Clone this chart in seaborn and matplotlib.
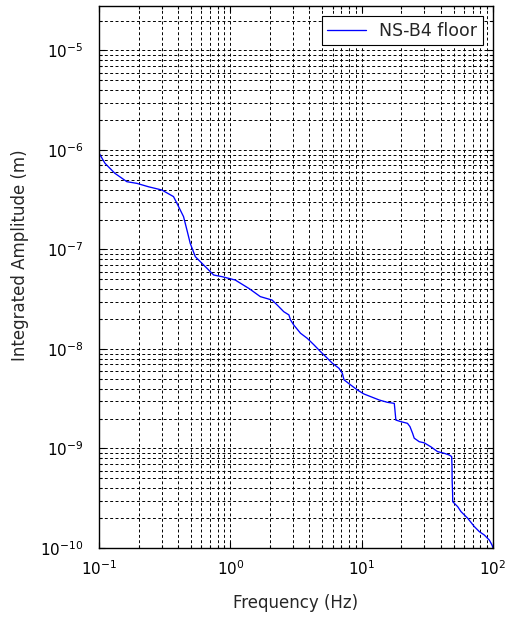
import numpy as np
import pandas as pd
import matplotlib
matplotlib.use("Agg")
import matplotlib.pyplot as plt
import seaborn as sns
from matplotlib.ticker import LogLocator, NullFormatter

# values (frequency in Hz, integrated amplitude in m)
freq = [0.1, 0.111, 0.132, 0.163, 0.194, 0.238, 0.301, 0.369, 0.392, 0.44,
        0.467, 0.495, 0.541, 0.608, 0.746, 0.865, 1.09, 1.4, 1.69, 2.08,
        2.27, 2.55, 2.79, 2.87, 3.04, 3.42, 3.85, 4.33, 4.86, 5.31,
        5.97, 6.71, 7.12, 7.33, 8.24, 9.27, 10.4, 11.7, 13.6, 15.7,
        17.7, 17.9, 18.2, 19.9, 22.3, 23.3, 24.4, 25.1, 27.4, 29.9,
        33.6, 37.8, 42.5, 46.4, 48.4, 48.7, 48.8, 49.2, 49.3, 53.8,
        57.0, 64.1, 72.0, 78.6, 85.8, 93.7, 98.2, 100.0]
amp = [9.3e-7, 7.35e-7, 5.83e-7, 4.8e-7, 4.62e-7, 4.27e-7, 3.96e-7, 3.4e-7, 2.91e-7, 2.14e-7,
       1.57e-7, 1.15e-7, 8.46e-8, 7.26e-8, 5.54e-8, 5.33e-8, 4.93e-8, 4.02e-8, 3.36e-8, 3.1e-8,
       2.77e-8, 2.37e-8, 2.2e-8, 1.96e-8, 1.74e-8, 1.44e-8, 1.28e-8, 1.1e-8, 9.4e-9, 8.4e-9,
       7.2e-9, 6.4e-9, 5.7e-9, 4.9e-9, 4.35e-9, 3.87e-9, 3.53e-9, 3.32e-9, 3.07e-9, 2.91e-9,
       2.84e-9, 2.44e-9, 1.93e-9, 1.86e-9, 1.79e-9, 1.66e-9, 1.42e-9, 1.27e-9, 1.17e-9, 1.14e-9,
       1.04e-9, 9.3e-10, 8.95e-10, 8.6e-10, 8.3e-10, 6.6e-10, 4.8e-10, 3.55e-10, 2.92e-10, 2.6e-10,
       2.32e-10, 1.99e-10, 1.64e-10, 1.46e-10, 1.35e-10, 1.2e-10, 1.07e-10, 1.0e-10]
series_name = "NS-B4 floor"

df = pd.DataFrame({"freq": freq, "amp": amp, "series": series_name})

sns.set_style("ticks")
plt.rcParams['font.family'] = ['DejaVu Sans']

fig = plt.figure(figsize=(5.12, 6.18), dpi=100)
ax = fig.add_axes([0.1934, 0.1133, 0.7696, 0.877])

sns.lineplot(data=df, x="freq", y="amp", hue="series", palette=["#0000ff"],
             sort=False, estimator=None, lw=0.95, ax=ax)

ax.set_xscale("log")
ax.set_yscale("log")
ax.set_xlim(0.1, 100)
ax.set_ylim(1e-10, 2.8e-5)

ax.xaxis.set_major_locator(LogLocator(base=10, numticks=10))
ax.yaxis.set_major_locator(LogLocator(base=10, numticks=10))
ax.xaxis.set_minor_locator(LogLocator(base=10, subs=np.arange(2, 10), numticks=20))
ax.yaxis.set_minor_locator(LogLocator(base=10, subs=np.arange(2, 10), numticks=20))
ax.xaxis.set_minor_formatter(NullFormatter())
ax.yaxis.set_minor_formatter(NullFormatter())

ax.grid(True, which="both", color="black", linestyle=(0, (3, 2.5)), lw=0.7)
ax.tick_params(which="both", direction="in", top=True, right=True, colors="black",
               labelsize=11, width=0.8)
ax.tick_params(which="major", length=4)
ax.tick_params(which="minor", length=2.5)
ax.tick_params(axis="x", which="major", pad=8)
ax.tick_params(axis="y", which="major", pad=11)
for s in ax.spines.values():
    s.set_color("black")
    s.set_linewidth(1.0)

ax.set_xlabel("Frequency (Hz)", fontsize=12, labelpad=12)
ax.set_ylabel("Integrated Amplitude (m)", fontsize=12)
ax.yaxis.set_label_coords(-0.178, 0.54)

leg = ax.legend(loc="upper right", fontsize=12.5, frameon=True, fancybox=False,
                framealpha=1, edgecolor="black", borderaxespad=0.6,
                handlelength=2.25, handletextpad=0.75, borderpad=0.3)
leg.get_frame().set_linewidth(0.8)

fig.savefig("out.png", dpi=100)
